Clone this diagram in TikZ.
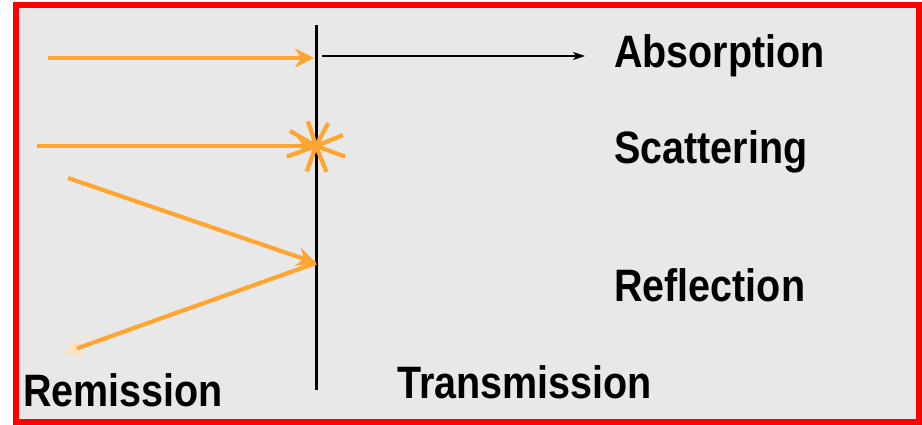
\documentclass[tikz,border=0pt]{standalone}
\usepackage{fontspec}
\setmainfont{Liberation Sans}
\usetikzlibrary{arrows.meta}
\definecolor{ray}{RGB}{255,165,50}
\definecolor{bg}{RGB}{232,232,232}
\definecolor{pale}{RGB}{255,225,190}
\newcommand{\lbltext}[1]{\scalebox{1}[1.15]{#1}}
\begin{document}
\begin{tikzpicture}[x=1pt,y=-1pt,
  rayline/.style={draw=ray,line width=4.2pt},
  rayarrow/.style={rayline,-{Stealth[length=19pt,width=19pt,inset=6pt]}},
  lbl/.style={font=\bfseries\fontsize{39.5}{42}\selectfont,anchor=base west,inner sep=0pt},
  spoke/.style={draw=ray,line width=4.2pt}]
\useasboundingbox (0,0) rectangle (922,425);
\fill[white] (0,0) rectangle (922,425);
\draw[red,line width=6pt,fill=bg] (16,5) rectangle (919,422);
% interface
\coordinate (top) at (316,25);
\coordinate (bot) at (316,390);
\draw[black,line width=3pt] (top) -- (bot);
% absorption
\coordinate (a0) at (48,58);
\coordinate (a1) at (314,58);
\draw[rayarrow] (a0) -- (a1);
\coordinate (b0) at (322,56);
\coordinate (b1) at (585,56);
\draw[black,line width=1.2pt,-{Stealth[length=12pt,width=8pt,inset=3pt]}] (b0) -- (b1);
% scattering
\coordinate (s0) at (37,146);
\coordinate (sc) at (316,146);
\draw[rayarrow] (s0) -- (sc);
\foreach \a/\r in {-20/31, 22/29, 62/26, 108/26, 150/30, 200/31, 250/27, 292/28}
  \draw[spoke] (sc) -- ++({\r*cos(\a)},{-\r*sin(\a)});
% reflection
\coordinate (r0) at (68,178);
\coordinate (rc) at (316,263);
\coordinate (r1) at (64,353);
\draw[rayarrow] (r0) -- (rc);
\draw[rayline,-{Stealth[length=19pt,width=19pt,inset=6pt,color=pale]}] (rc) -- (r1);
% labels
\node[lbl] (abs) at (614,68) {\lbltext{Absorption}};
\node[lbl] (sca) at (614,164) {\lbltext{Scattering}};
\node[lbl] (ref) at (614,301) {\lbltext{Reflection}};
\node[lbl] (tra) at (397,398) {\lbltext{Transmission}};
\node[lbl] (rem) at (23,406) {\lbltext{Remission}};
\end{tikzpicture}
\end{document}
